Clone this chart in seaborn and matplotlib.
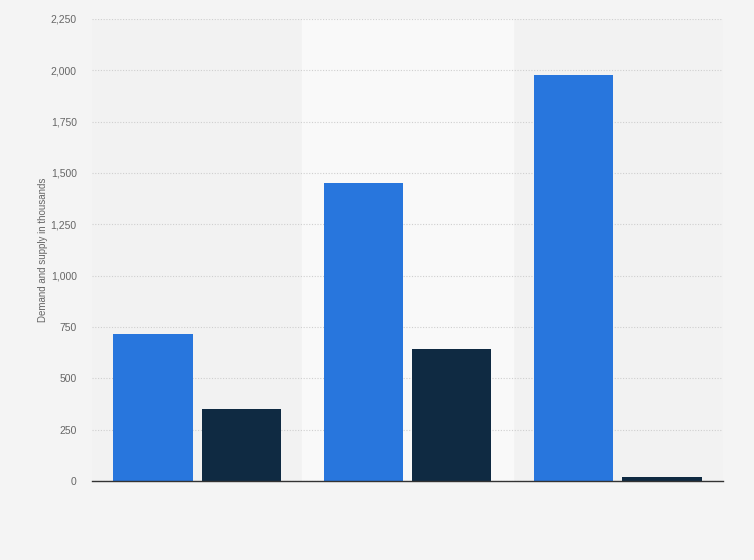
import pandas as pd
import seaborn as sns
import matplotlib.pyplot as plt
from matplotlib.ticker import FuncFormatter

# data (thousands)
groups = ["Group 1", "Group 2", "Group 3"]
demand = [716, 1451, 1975]
supply = [350, 643, 20]
series_names = ["Demand", "Supply"]
colors = ["#2876dd", "#0f2a42"]

df = pd.DataFrame({
    "Group": groups * 2,
    "Series": [series_names[0]] * 3 + [series_names[1]] * 3,
    "Value": demand + supply,
})

sns.set_style("white")
plt.rcParams["font.family"] = ["Liberation Sans", "DejaVu Sans"]

fig = plt.figure(figsize=(7.54, 5.60), dpi=100)
fig.patch.set_facecolor("#f4f4f4")
ax = fig.add_axes([92 / 754, 79 / 560, 631 / 754, 462 / 560])
ax.set_facecolor("#f2f2f2")

# lighter band behind the middle group
ax.axvspan(0.5, 1.5, color="#f9f9f9", zorder=0)

sns.barplot(data=df, x="Group", y="Value", hue="Series", palette=colors,
            width=0.84, gap=0.1, saturation=1, legend=False, ax=ax, zorder=3,
            edgecolor="none", linewidth=0)

ax.set_xlim(-0.5, 2.5)
ax.set_ylim(0, 2250)
ax.set_yticks(range(0, 2251, 250))
ax.yaxis.set_major_formatter(FuncFormatter(lambda v, p: f"{int(v):,}"))
ax.grid(axis="y", color="#cfcfcf", linestyle=(0, (1, 1.5)), linewidth=0.8, zorder=1)
ax.set_axisbelow(True)

ax.set_xticks([])
ax.set_xlabel("")
ax.set_ylabel("Demand and supply in thousands", fontsize=7, color="#666666", labelpad=2)
ax.tick_params(axis="y", length=0, labelsize=7.5, labelcolor="#666666", pad=11)

for s in ["top", "right", "left"]:
    ax.spines[s].set_visible(False)
ax.spines["bottom"].set_color("#333333")
ax.spines["bottom"].set_linewidth(1)
ax.spines["bottom"].set_zorder(5)

fig.savefig("out.png", dpi=100, facecolor=fig.get_facecolor())
